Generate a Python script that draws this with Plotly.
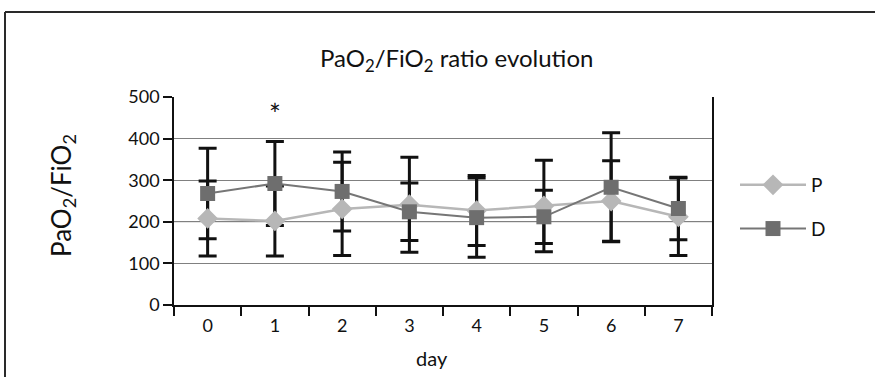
import plotly.graph_objects as go

days = ["0", "1", "2", "3", "4", "5", "6", "7"]
p_mean = [208, 202, 231, 241, 227, 238, 250, 212]
p_sd = [90, 84, 112, 114, 84, 110, 97, 93]
d_mean = [268, 292, 273, 224, 210, 212, 283, 232]
d_sd = [109, 101, 95, 69, 95, 64, 131, 75]
y_ticks = [0, 100, 200, 300, 400, 500]

FONT = "Lato"
W, H = 875, 377
L, T = 174, 97
PR, PB = 712, 305
R, B = W - PR, H - PB
pw, ph = PR - L, PB - T

def px_x(x):
    return (x - L) / pw

def px_y(y):
    return (PB - y) / ph

fig = go.Figure()

err_style = dict(type="data", visible=True, color="#111111", thickness=3, width=9)

fig.add_trace(go.Scatter(x=days, y=p_mean, mode="markers", marker=dict(size=1, opacity=0),
                         error_y=dict(array=p_sd, **err_style), showlegend=False, hoverinfo="skip"))
fig.add_trace(go.Scatter(x=days, y=d_mean, mode="markers", marker=dict(size=1, opacity=0),
                         error_y=dict(array=d_sd, **err_style), showlegend=False, hoverinfo="skip"))

fig.add_trace(go.Scatter(x=days, y=p_mean, mode="lines+markers", name="P", legendgroup="P",
                         line=dict(color="#b7b7b7", width=2.5),
                         marker=dict(symbol="diamond", size=16, color="#b7b7b7")))
fig.add_trace(go.Scatter(x=days, y=d_mean, mode="lines+markers", name="D", legendgroup="D",
                         line=dict(color="#767676", width=2),
                         marker=dict(symbol="square", size=15, color="#6e6e6e")))

shapes = [
    dict(type="line", xref="paper", yref="paper", x0=px_x(5), x1=px_x(5), y0=px_y(12), y1=px_y(400),
         line=dict(color="#2a2a2a", width=2)),
    dict(type="line", xref="paper", yref="paper", x0=px_x(5), x1=px_x(900), y0=px_y(12), y1=px_y(12),
         line=dict(color="#2a2a2a", width=2)),
    dict(type="line", xref="paper", yref="y", x0=0, x1=1, y0=y_ticks[2], y1=y_ticks[2], layer="between",
         line=dict(color="#a8a8a8", width=1)),
]

annotations = [
    dict(text="PaO<sub>2</sub>/FiO<sub>2</sub> ratio evolution", xref="paper", yref="paper",
         x=px_x(456), y=px_y(60), xanchor="center", yanchor="middle", showarrow=False,
         font=dict(size=24, color="#111", family=FONT)),
    dict(text="PaO<sub>2</sub>/FiO<sub>2</sub>", xref="paper", yref="paper", textangle=-90,
         x=px_x(62), y=px_y(196), xanchor="center", yanchor="middle", showarrow=False,
         font=dict(size=26, color="#111", family=FONT)),
    dict(text="day", xref="paper", yref="paper", x=px_x(432), y=px_y(358),
         xanchor="center", yanchor="middle", showarrow=False,
         font=dict(size=20, color="#111", family=FONT)),
    dict(text="*", x=days[1], y=458, xref="x", yref="y", xanchor="center", yanchor="middle",
         showarrow=False, font=dict(size=28, color="#111", family=FONT)),
]

fig.update_layout(
    width=W, height=H,
    margin=dict(l=L, r=R, t=T, b=B),
    paper_bgcolor="white", plot_bgcolor="white",
    font=dict(family=FONT, size=16, color="#111"),
    shapes=shapes, annotations=annotations,
    legend=dict(x=px_x(735), y=px_y(207), xanchor="left", yanchor="middle",
                traceorder="grouped", tracegroupgap=16, itemwidth=66,
                font=dict(size=19, family=FONT, color="#111"), bgcolor="rgba(0,0,0,0)"),
    xaxis=dict(type="category", range=[-0.5, 7.5], showline=True, linecolor="#111", linewidth=1.5,
               ticks="outside", tickson="boundaries", ticklen=9, tickcolor="#111", tickwidth=1.5,
               showgrid=False, tickfont=dict(size=18), ticklabelstandoff=4, fixedrange=True),
    yaxis=dict(range=[0, 500], tickvals=y_ticks, showline=True, mirror=True, linecolor="#111", linewidth=1.5,
               ticks="outside", ticklen=9, tickcolor="#111", tickwidth=1.5,
               showgrid=True, gridcolor="#808080", gridwidth=1, zeroline=False,
               tickfont=dict(size=18), fixedrange=True),
)

fig.write_html("out.html", config={"displayModeBar": False},
               post_script="document.body.style.margin='0';")
